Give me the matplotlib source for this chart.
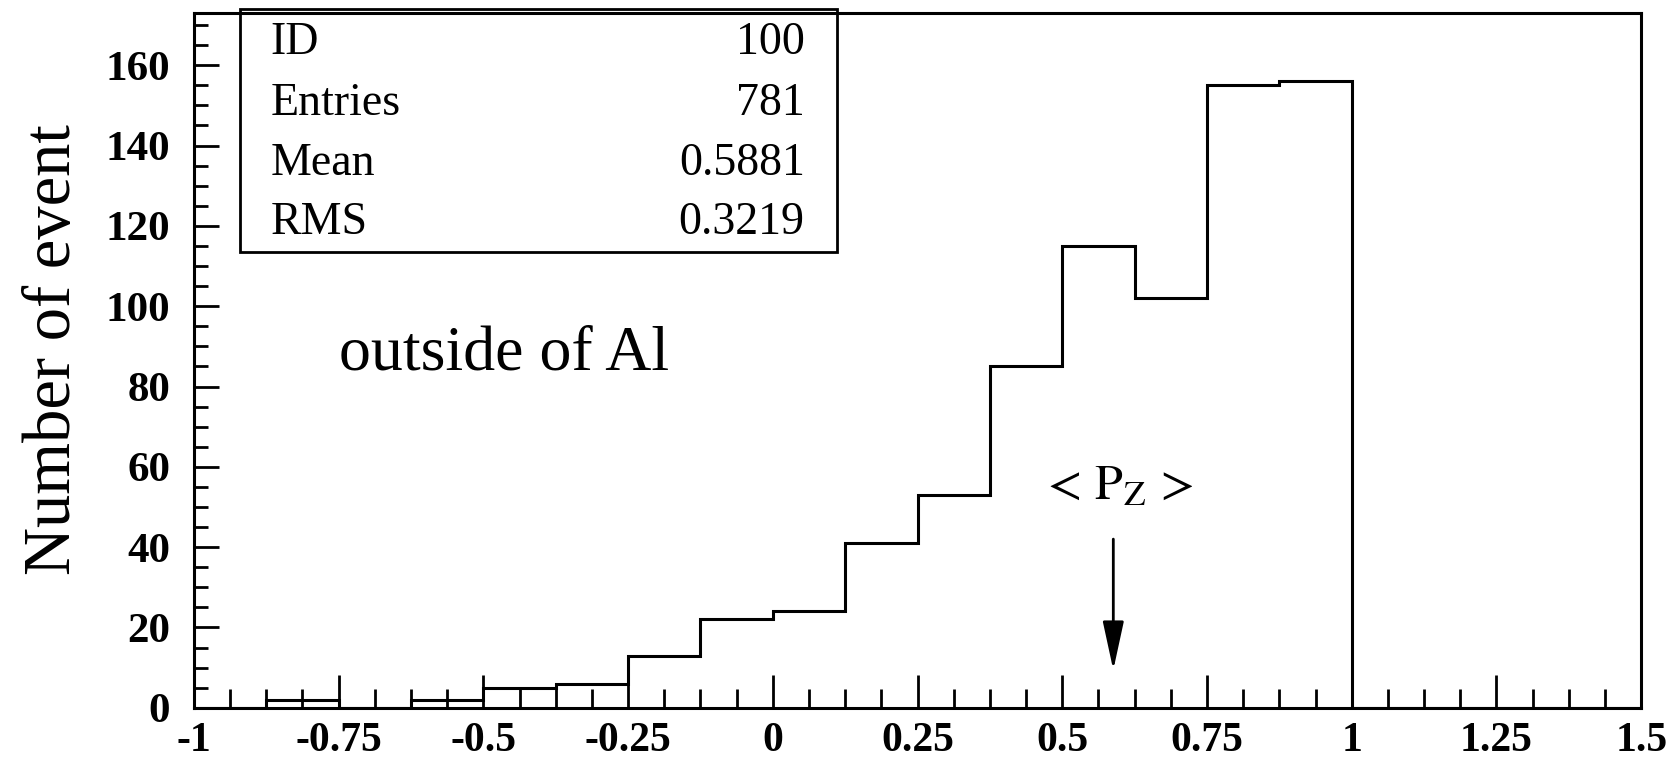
import numpy as np
import matplotlib.pyplot as plt
from matplotlib.ticker import MultipleLocator

# bin edges and counts (0.125 wide bins)
edges = np.arange(-1.0, 1.5001, 0.125)
counts = [0, 2, 0, 2, 5, 6, 13, 22, 24, 41, 53, 85, 115, 102, 155, 156,
          0, 0, 0, 0]

stat_names = ['ID', 'Entries', 'Mean', 'RMS']
stat_values = ['100', '781', '0.5881', '0.3219']
mean_pz = 0.5881

plt.rcParams['font.family'] = ['Liberation Serif', 'DejaVu Serif']
plt.rcParams['mathtext.fontset'] = 'stix'

fig = plt.figure(figsize=(16.79, 7.66), dpi=100)
ax = fig.add_axes([0.1155, 0.076, 0.862, 0.907])

ax.stairs(counts, edges, color='black', linewidth=2.2, baseline=0)

ax.set_xlim(-1, 1.5)
ax.set_ylim(0, 173)

# ticks like the old PAW plot: inward, only left and bottom
ax.xaxis.set_major_locator(MultipleLocator(0.25))
ax.xaxis.set_minor_locator(MultipleLocator(0.0625))
ax.yaxis.set_major_locator(MultipleLocator(20))
ax.yaxis.set_minor_locator(MultipleLocator(5))
ax.tick_params(axis='x', which='major', direction='in', length=24, width=2,
               pad=10, labelsize=30)
ax.tick_params(axis='x', which='minor', direction='in', length=14, width=2)
ax.tick_params(axis='y', which='major', direction='in', length=18, width=2,
               pad=17, labelsize=31)
ax.tick_params(axis='y', which='minor', direction='in', length=10, width=2)
ax.set_xticks([-1, -0.75, -0.5, -0.25, 0, 0.25, 0.5, 0.75, 1, 1.25, 1.5])
ax.set_xticklabels(['-1', '-0.75', '-0.5', '-0.25', '0', '0.25', '0.5',
                    '0.75', '1', '1.25', '1.5'])
for lab in ax.get_xticklabels() + ax.get_yticklabels():
    lab.set_fontweight('bold')
for s in ax.spines.values():
    s.set_linewidth(2.2)

ax.set_ylabel('Number of event', fontsize=48)
ax.yaxis.set_label_coords(-0.076, 0.515)

# statistics box
ax.add_patch(plt.Rectangle((0.032, 0.656), 0.412, 0.35, transform=ax.transAxes,
                           fill=False, edgecolor='black', linewidth=2,
                           clip_on=False))
rows_y = [0.957, 0.869, 0.783, 0.698]
for name, val, yy in zip(stat_names, stat_values, rows_y):
    ax.text(0.053, yy, name, transform=ax.transAxes, fontsize=33,
            va='center', ha='left')
    ax.text(0.422, yy, val, transform=ax.transAxes, fontsize=33,
            va='center', ha='right')

ax.text(-0.75, 88, 'outside of Al', fontsize=46, va='center', ha='left')

# mean arrow
ax.annotate('', xy=(mean_pz, 9.4), xytext=(mean_pz, 42),
            arrowprops=dict(arrowstyle='-|>,head_length=3.0,head_width=0.65',
                            color='black', lw=2, mutation_scale=10,
                            shrinkA=0, shrinkB=0))
ax.text(mean_pz + 0.005, 55, r'$<\,\mathrm{P}_{\mathrm{Z}}\,>$', fontsize=36,
        ha='center', va='center')

fig.savefig('out.png', dpi=100)
